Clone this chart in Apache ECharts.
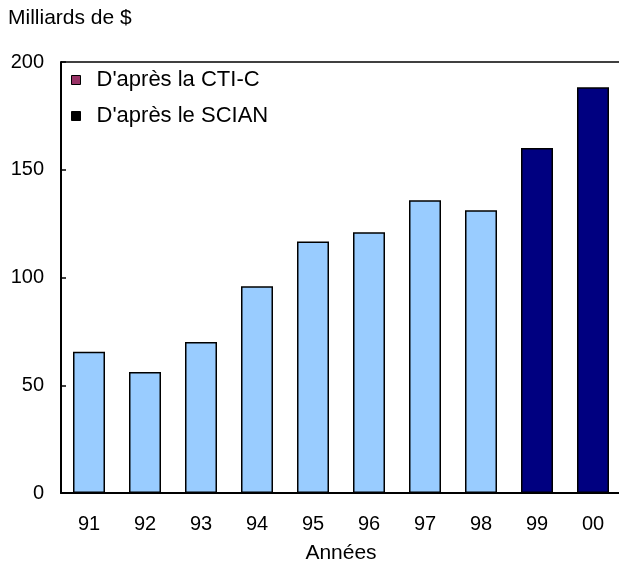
<!DOCTYPE html>
<html>
<head>
<meta charset="utf-8">
<script src="https://cdn.jsdelivr.net/npm/echarts@6/dist/echarts.min.js"></script>
<style>
  html, body { margin: 0; padding: 0; background: #ffffff; }
  #chart { width: 619px; height: 564px; }
</style>
</head>
<body>
<div id="chart"></div>
<script>
  // années et valeurs (milliards de $)
  var years = ['91', '92', '93', '94', '95', '96', '97', '98', '99', '00'];
  var ctiValues = [65.5, 56.2, 70.1, 95.9, 116.7, 121.0, 135.8, 131.2, null, null];
  var scianValues = [null, null, null, null, null, null, null, null, 160.1, 188.3];
  var yTicks = [0, 50, 100, 150, 200];

  var font = '"Liberation Sans", Arial, sans-serif';
  var chart = echarts.init(document.getElementById('chart'));

  chart.setOption({
    animation: false,
    textStyle: { fontFamily: font, color: '#000' },
    graphic: [{
      type: 'text', left: 8, top: 8,
      style: { text: 'Milliards de $', font: '21px ' + font, fill: '#000' }
    }],
    legend: {
      orient: 'vertical',
      left: 66, top: 64,
      itemWidth: 9, itemHeight: 9,
      itemGap: 14,
      textStyle: { fontSize: 22, color: '#000', fontFamily: font, padding: [0, 0, 0, 11] },
      data: [
        { name: "D'après la CTI-C", icon: 'rect', itemStyle: { color: '#993366', borderColor: '#000', borderWidth: 1 } },
        { name: "D'après le SCIAN", icon: 'rect', itemStyle: { color: '#000000', borderColor: '#000', borderWidth: 1 } }
      ]
    },
    grid: { left: 61, right: -2, top: 62, bottom: 71, outerBoundsMode: 'none', containLabel: false },
    xAxis: {
      type: 'category',
      data: years,
      name: 'Années',
      nameLocation: 'middle',
      nameGap: 50,
      nameTextStyle: { fontSize: 21, color: '#000', fontFamily: font },
      axisLine: { lineStyle: { color: '#000', width: 2 } },
      axisTick: { show: false },
      axisLabel: { fontSize: 20, color: '#000', margin: 21, fontFamily: font }
    },
    yAxis: {
      type: 'value',
      min: yTicks[0], max: yTicks[yTicks.length - 1], interval: 50,
      axisLine: { show: true, lineStyle: { color: '#000', width: 2 } },
      axisTick: { show: true, inside: true, length: 5, lineStyle: { color: '#000', width: 1.5 } },
      axisLabel: { fontSize: 20, color: '#000', margin: 17, fontFamily: font },
      splitLine: { show: false }
    },
    series: [
      {
        name: "D'après la CTI-C",
        type: 'bar',
        data: ctiValues,
        barWidth: 32,
        barGap: '-100%',
        itemStyle: { color: '#99CCFF', borderColor: '#000', borderWidth: 1.5 },
        markLine: {
          silent: true,
          symbol: 'none',
          label: { show: false },
          lineStyle: { color: '#000', width: 1.5, type: 'solid' },
          data: [{ yAxis: yTicks[yTicks.length - 1] }]
        }
      },
      {
        name: "D'après le SCIAN",
        type: 'bar',
        data: scianValues,
        barWidth: 32,
        itemStyle: { color: '#000080', borderColor: '#000', borderWidth: 1.5 }
      }
    ]
  });
</script>
</body>
</html>
